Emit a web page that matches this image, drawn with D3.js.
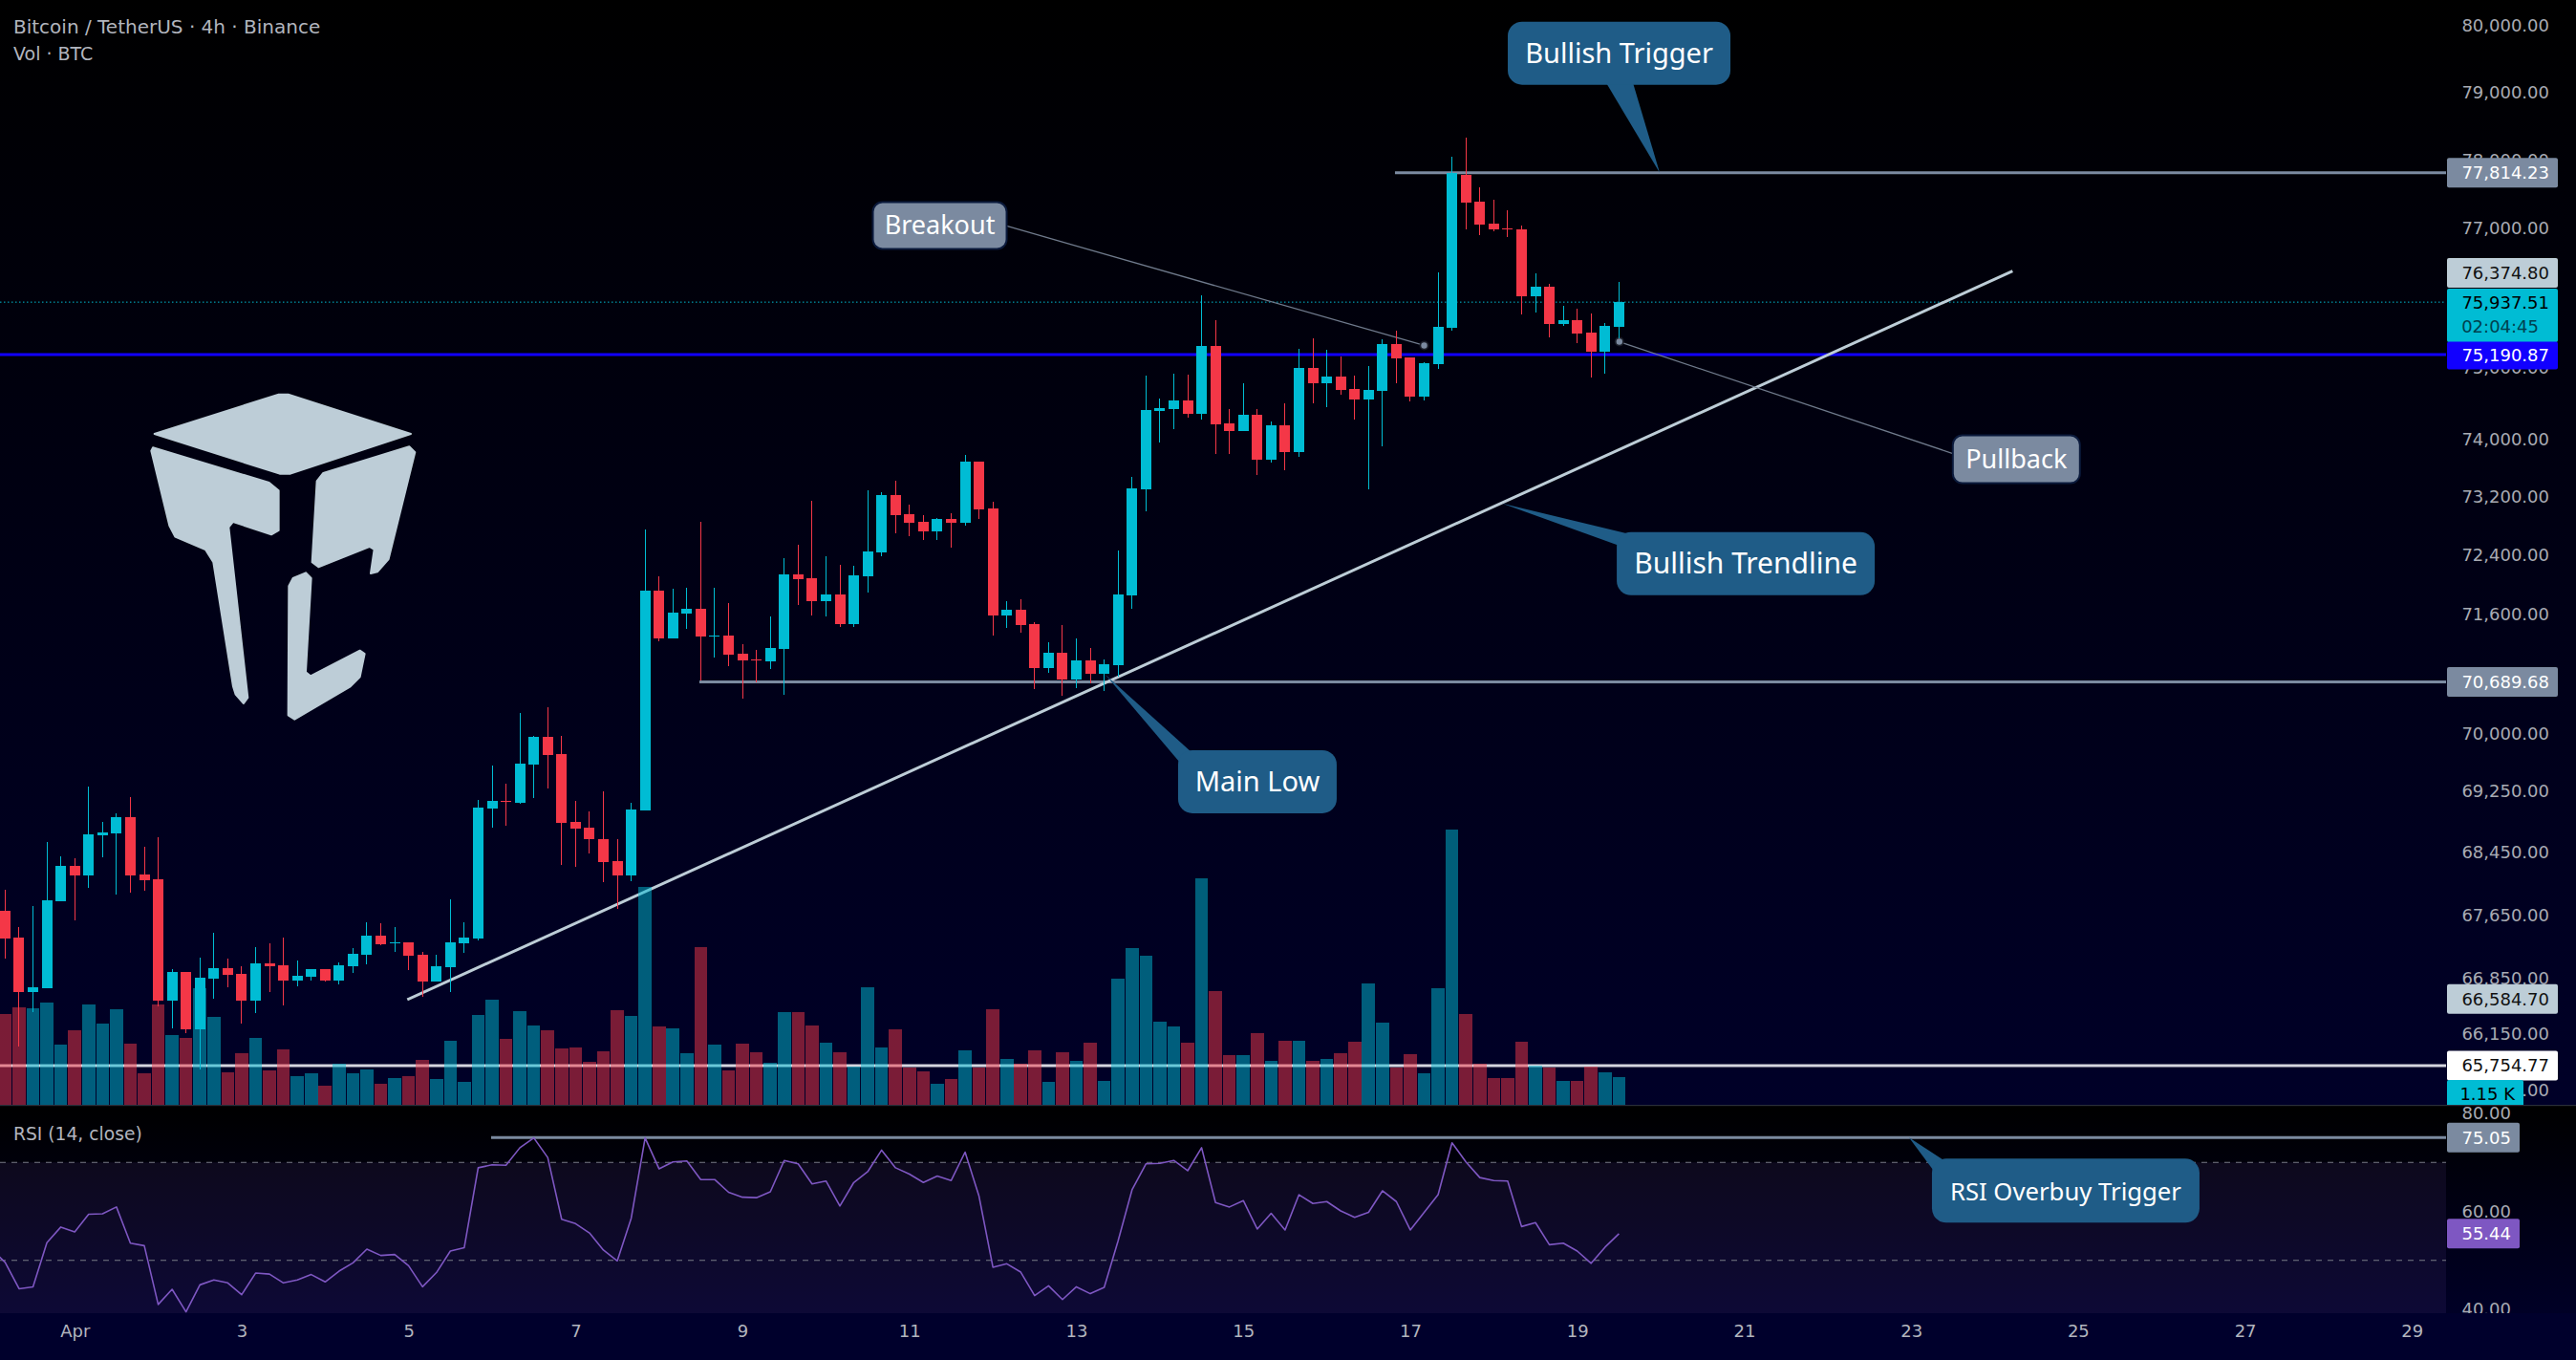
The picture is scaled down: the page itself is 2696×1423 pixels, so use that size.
<!DOCTYPE html>
<html><head><meta charset="utf-8">
<style>html,body{margin:0;padding:0;background:#000;overflow:hidden}svg{display:block}</style>
<script src="https://cdn.jsdelivr.net/npm/d3@7/dist/d3.min.js"></script>
</head><body><svg id="c" width="2696" height="1423"></svg>
<script>
const opens=[67703,67361,66677,66721,67829,68277,68158,68677,68702,68910,
68167,68106,66568,66925,66208,66845,66973,66901,66568,67033,
67009,66821,66869,66961,66821,67001,67145,67385,67283,67297,
67141,66809,66989,67291,67353,69025,69121,69096,69594,69961,
69733,68848,68773,68624,68338,68158,68997,71917,71272,71608,
71672,71298,71311,71066,70989,70963,71131,72136,72085,71775,
71865,71466,72110,72438,73225,72962,72857,72726,72897,72844,
73688,73041,71582,71659,71466,70873,71079,70721,70976,70797,
70912,71852,73304,74397,74424,74544,74357,75315,74223,74116,
74343,73715,74196,73822,75001,74785,74880,74704,74557,74678,
75342,75152,74597,75056,75573,77784,77392,77073,77003,76990,
76022,76158,75628,75682,75505,75233,75587];
const closes=[67353,66677,66733,67838,68277,68158,68686,68711,68910,68158,
68097,66568,66925,66208,66853,66973,66893,66568,67033,67001,
66821,66877,66961,66821,67009,67153,67385,67279,67297,67133,
66809,66997,67297,67361,69034,69121,69109,69607,69961,69721,
68835,68760,68624,68329,68158,69009,71917,71272,71620,71672,
71298,71311,71053,70976,70976,71144,72136,72072,71775,71865,
71466,72123,72451,73225,72949,72844,72726,72897,72844,73688,
73028,71582,71659,71453,70873,71079,70721,70976,70797,70925,
71865,73317,74410,74437,74544,74357,75315,74210,74116,74343,
73715,74196,73822,75001,74785,74880,74691,74557,74691,75342,
75138,74597,75070,75587,77814,77378,77059,76990,76990,76022,
76158,75628,75682,75492,75233,75600,75937.51];
const highs=[67972,67496,67764,68582,68400,68375,69308,68848,68960,69171,
68524,68648,66961,66925,67105,67421,67093,66997,67239,67287,
67361,67069,66961,66961,67045,67227,67557,67545,67496,67297,
67177,67141,67850,67557,69134,69582,69345,70278,69974,70354,
69974,69121,68984,69246,68624,69097,72753,72110,71943,71956,
72857,71956,71749,71195,71118,71569,72357,72543,73146,72385,
72265,72252,73290,73264,73422,73094,72949,72910,72976,73782,
73688,73133,71775,71801,71492,71221,71453,71272,71144,70989,
72464,73474,74893,74571,74920,74907,76036,75682,74424,74785,
74424,74250,74504,75274,75424,75260,75165,74893,75029,75410,
75532,75152,75084,76366,78052,78334,77600,77419,77267,77045,
76350,76200,75886,75845,75777,75641,76227];
const lows=[67097,65995,66425,66721,67829,67585,68000,68391,67915,67939,
67963,66498,66220,66160,65710,66593,66737,66280,66413,66677,
66510,66749,66821,66809,66773,66917,67025,67267,67181,66953,
66617,66809,66677,67169,67329,68777,68802,69088,69162,69287,
68293,68268,68441,68073,67731,68085,68997,71234,71272,71401,
70708,71015,70899,70468,70683,70860,70518,71724,71582,71569,
71427,71427,71891,72385,72700,72661,72608,72608,72503,72805,
72897,71311,71414,71350,70594,70809,70505,70607,70670,70569,
70759,71672,73002,73956,74143,74303,74277,73795,73795,74116,
73501,73675,73568,73755,74504,74450,74624,74277,73304,73902,
74785,74530,74544,74988,75532,76990,76906,76962,76879,75764,
75791,75437,75600,75356,74866,74920,75424];
const volumes=[3.76,4.03,3.99,4.23,2.49,3.08,4.15,3.36,3.96,2.53,
1.30,4.15,2.88,2.76,4.83,3.64,1.34,2.13,2.76,1.42,
2.29,1.18,1.30,0.78,1.69,1.30,1.46,0.86,1.10,1.18,
1.85,1.06,2.65,0.94,3.72,4.35,2.72,3.88,3.28,3.08,
2.33,2.37,1.77,2.21,3.92,3.68,9.03,3.26,3.19,2.13,
6.55,2.52,1.43,2.55,2.20,1.75,3.86,3.86,3.31,2.59,
2.20,1.59,4.89,2.39,3.12,1.56,1.40,0.89,1.08,2.27,
1.56,3.95,1.91,1.72,2.27,0.97,2.20,1.84,2.59,1.01,
5.24,6.52,6.20,3.47,3.26,2.59,9.42,4.73,2.07,2.07,
2.96,1.84,2.64,2.66,1.83,1.90,2.14,2.62,5.04,3.41,
1.56,2.10,1.31,4.84,11.43,3.77,1.71,1.11,1.11,2.62,
1.63,1.56,0.99,0.99,1.59,1.35,1.15];
const rsiBefore=[52.3];
const rsiValues=[49.6,44.2,44.6,53.6,56.8,55.8,59.4,59.5,60.9,53.5,
53.0,41.0,44.1,39.5,45.0,46.0,45.4,43.0,47.4,47.2,
45.4,46.0,47.1,45.6,47.8,49.5,52.3,51.0,51.2,48.9,
44.6,47.5,51.9,52.6,68.9,69.5,69.4,73.0,75.0,71.0,
58.4,57.5,55.6,52.1,49.9,58.6,75.0,68.7,70.1,70.3,
66.5,66.5,63.9,62.9,62.8,64.0,70.4,69.7,65.6,66.2,
61.1,65.9,68.1,72.5,68.9,67.6,65.9,67.2,66.3,72.1,
63.1,48.6,49.3,47.6,42.8,44.8,42.0,44.6,43.2,44.5,
54.0,64.4,69.7,69.8,70.4,68.3,73.0,61.8,60.9,62.2,
56.4,59.6,56.2,63.4,61.6,62.0,60.1,58.8,59.8,64.2,
62.0,56.2,59.8,63.4,74.0,70.1,66.9,66.3,66.2,56.9,
57.7,53.2,53.5,51.9,49.4,52.7,55.44];
const priceTicks=[80000,79000,78000,77000,75000,74000,73200,72400,71600,70800,70000,69250,68450,67650,66850,66150,65450];
const rsiTicks=[80,60,40];
const dateLabels=["Apr","3","5","7","9","11","13","15","17","19","21","23","25","27","29"];
const dateIndex=[5,17,29,41,53,65,77,89,101,113,125,137,149,161,173];
const trigger=77814.23, mainLow=70689.68, support=65754.77, pivot=75190.87, trendLow=66584.70, trendHigh=76374.80, lastClose=75937.51, lastVolume=1.15, rsiTrigger=75.05, rsiLast=55.44;
const calloutTexts=["Bullish Trigger","Bullish Trendline","Main Low"];
const calloutIdx=[118.93,107.6,79.09];
const calloutPrice=[trigger,73107,70785];
const noteTexts=["Breakout","Pullback"];
const noteIdx=[102,116.03];
const notePrice=[75319,75373];

const W=2696,H=1423,PX=2560,MB=1156,RT=1157,RB=1374;
const FONT='"DejaVu Sans",sans-serif', LFONT='"Noto Sans",sans-serif';
const UP='#00bcd4',DN='#f43747',SLATE='#7b8aa0',LIGHT='#bdcdd7',BLUE='#1100ff',PURPLE='#7e57c2',CALL='#1f5c87',TXT='#a8abb3';

const x=d3.scaleLinear().domain([0,173]).range([5.4,2524.3]);
const y=d3.scaleLog().domain([80000,60000]).range([27,1623]);
const yVol=d3.scaleLinear().domain([0,11.43]).range([MB,868]);
const yRsi=d3.scaleLinear().domain([80,40]).range([1165,1370]);

const svg=d3.select('#c');
const defs=svg.append('defs');
function grad(id,a,b){const g=defs.append('linearGradient').attr('id',id).attr('x1',0).attr('y1',0).attr('x2',0).attr('y2',1);
 g.append('stop').attr('offset',0).attr('stop-color',a);g.append('stop').attr('offset',1).attr('stop-color',b);}
grad('gMain','#000000','#000028');grad('gRsi','#000000','#000026');
defs.append('clipPath').attr('id','clipMain').append('rect').attr('width',PX).attr('height',MB);
defs.append('clipPath').attr('id','clipRsi').append('rect').attr('y',RT).attr('width',PX).attr('height',RB-RT);
defs.append('clipPath').attr('id','clipRsiAxis').append('rect').attr('y',RT).attr('width',W).attr('height',RB-RT);
defs.append('clipPath').attr('id','clipVolTag').append('rect').attr('y',0).attr('width',W).attr('height',MB);

svg.append('rect').attr('width',W).attr('height',RT).attr('fill','url(#gMain)');
svg.append('rect').attr('y',RT).attr('width',W).attr('height',RB-RT).attr('fill','url(#gRsi)');
svg.append('rect').attr('y',RB).attr('width',W).attr('height',H-RB).attr('fill','#00002c');
svg.append('rect').attr('y',MB).attr('width',W).attr('height',1.2).attr('fill','#2a2e39');

// logo
const logoShapes=[
 [[185,222],[575,98],[605,98],[990,222],[612,347],[578,347]],
 [[180,265],[545,375],[575,400],[575,525],[552,538],[432,498],[418,515],[478,1050],[465,1068],[440,1040],[432,1015],[370,625],[345,585],[250,545],[232,510],[175,275]],
 [[695,370],[715,345],[985,262],[1003,280],[920,615],[885,655],[864,660],[875,585],[860,576],[700,640],[680,625]],
 [[607,700],[620,675],[660,658],[677,675],[660,970],[675,982],[830,902],[845,912],[830,985],[800,1015],[625,1118],[605,1105]]];
const logo=svg.append('g').attr('transform','translate(100,380) scale(0.3333)');
logo.selectAll('path').data(logoShapes).join('path').attr('d',d=>'M'+d.join('L')+'Z')
 .attr('fill',LIGHT).attr('stroke',LIGHT).attr('stroke-width',6).attr('stroke-linejoin','round');

// price axis
const axR=d3.axisRight(y).tickValues(priceTicks).tickSize(0).tickPadding(0).tickFormat(d3.format(',.2f'));
const ga=svg.append('g').attr('transform','translate(2668,0)').call(axR);
ga.select('.domain').remove();
ga.selectAll('text').attr('text-anchor','end').attr('x',0).attr('font-family',FONT).attr('font-size',18).attr('fill',TXT);

// rsi axis
const axRs=d3.axisRight(yRsi).tickValues(rsiTicks).tickSize(0).tickPadding(0).tickFormat(d3.format('.2f'));
const gar=svg.append('g').attr('clip-path','url(#clipRsiAxis)').append('g').attr('transform','translate(2628,0)').call(axRs);
gar.select('.domain').remove();
gar.selectAll('text').attr('text-anchor','end').attr('x',0).attr('font-family',FONT).attr('font-size',18).attr('fill',TXT);

// time axis
const axB=d3.axisBottom(x).tickValues(dateIndex).tickSize(0).tickPadding(0).tickFormat((d,i)=>dateLabels[i]);
const gb=svg.append('g').attr('transform','translate(0,1386)').call(axB);
gb.select('.domain').remove();
gb.selectAll('text').attr('font-family',FONT).attr('font-size',18).attr('fill','#b2b5be');

// main pane
const main=svg.append('g').attr('clip-path','url(#clipMain)');
const H3=(v,a,b,c,w)=>main.append('line').attr('x1',x(a)).attr('x2',b).attr('y1',y(v)).attr('y2',y(v)).attr('stroke',c).attr('stroke-width',w);
H3(trigger,99.9,PX,SLATE,3);
H3(mainLow,49.9,PX,SLATE,3);
H3(support,-1,PX,'#d5d6de',3);
H3(pivot,-1,PX,BLUE,3);
main.append('line').attr('x1',0).attr('x2',PX).attr('y1',y(lastClose)).attr('y2',y(lastClose)).attr('stroke',UP).attr('stroke-width',1).attr('stroke-dasharray','1.5 2.5');
main.append('line').attr('x1',x(29)).attr('y1',y(trendLow)).attr('x2',x(144.2)).attr('y2',y(trendHigh)).attr('stroke',LIGHT).attr('stroke-width',3).attr('stroke-linecap','square');

// volume
const idx=d3.range(opens.length);
main.append('g').selectAll('rect').data(idx).join('rect')
 .attr('x',i=>x(i)-6.8).attr('width',13.6).attr('y',i=>yVol(volumes[i])).attr('height',i=>MB-yVol(volumes[i]))
 .attr('fill',i=>closes[i]>=opens[i]?UP:DN).attr('opacity',0.5).attr('shape-rendering','crispEdges');

// callouts
const boxes=[{dx:-159,dy:-158,w:233,h:66,t:[-56,-28],fs:29},{dx:120,dy:30,w:270,h:66,t:[13,14],fs:30},{dx:76,dy:79,w:166,h:66,t:[14,13],fs:29}];
const cg=svg.append('g');
function callout(g,text,px,py,b){
 const bx=px+b.dx,by=py+b.dy;
 const tail=b.dy<0?[[px,py],[px+b.t[0],by+b.h-2],[px+b.t[1],by+b.h-2]]:[[px,py],[bx+b.t[0],by+2],[bx+20,by+20],[bx+2,by+b.t[1]]];
 g.append('path').attr('d','M'+tail.join('L')+'Z').attr('fill',CALL);
 g.append('rect').attr('x',bx).attr('y',by).attr('width',b.w).attr('height',b.h).attr('rx',15).attr('fill',CALL);
 g.append('text').attr('x',bx+b.w/2).attr('y',by+b.h/2+10).attr('text-anchor','middle').attr('font-family',LFONT).attr('font-size',b.fs).attr('fill','#fff').text(text);
}
calloutTexts.forEach((t,i)=>callout(cg,t,x(calloutIdx[i]),y(calloutPrice[i]),boxes[i]));

// notes
const noteBoxes=[{dx:-577,dy:-150,w:140,h:49,ly:25,side:1},{dx:349,dy:98,w:133,h:50,ly:19,side:-1}];
const ng=svg.append('g');
noteTexts.forEach((t,i)=>{
 const px=x(noteIdx[i]),py=y(notePrice[i]),b=noteBoxes[i],bx=px+b.dx,by=py+b.dy;
 ng.append('line').attr('x1',px).attr('y1',py).attr('x2',b.side>0?bx+b.w:bx).attr('y2',by+b.ly).attr('stroke','#6f7a8c').attr('stroke-width',1.3);
 ng.append('circle').attr('cx',px).attr('cy',py).attr('r',5).attr('fill','#1a1d28');
 ng.append('circle').attr('cx',px).attr('cy',py).attr('r',3.2).attr('fill',SLATE);
 ng.append('rect').attr('x',bx).attr('y',by).attr('width',b.w).attr('height',b.h).attr('rx',10).attr('fill',SLATE).attr('stroke','#0b1a3c').attr('stroke-width',2);
 ng.append('text').attr('x',bx+b.w/2).attr('y',by+b.h/2+9).attr('text-anchor','middle').attr('font-family',LFONT).attr('font-size',27).attr('fill','#fff').text(t);
});

// candles
const cd=svg.append('g').attr('clip-path','url(#clipMain)').attr('shape-rendering','crispEdges');
const col=i=>closes[i]>=opens[i]?UP:DN;
cd.selectAll('.w').data(idx).join('rect').attr('class','w').attr('x',i=>Math.round(x(i)-0.5)).attr('width',1)
 .attr('y',i=>y(highs[i])).attr('height',i=>y(lows[i])-y(highs[i])).attr('fill',col);
cd.selectAll('.b').data(idx).join('rect').attr('class','b').attr('x',i=>Math.round(x(i)-0.5)-5).attr('width',11)
 .attr('y',i=>Math.min(y(opens[i]),y(closes[i]))).attr('height',i=>Math.max(1,Math.abs(y(opens[i])-y(closes[i])))).attr('fill',col);

// RSI pane
const rg=svg.append('g').attr('clip-path','url(#clipRsi)');
rg.append('rect').attr('x',0).attr('width',PX).attr('y',yRsi(70)).attr('height',RB-yRsi(70)).attr('fill',PURPLE).attr('opacity',0.1);
[70,50].forEach(v=>rg.append('line').attr('x1',0).attr('x2',PX).attr('y1',yRsi(v)).attr('y2',yRsi(v)).attr('stroke','#787b86').attr('stroke-dasharray','6 6'));
rg.append('line').attr('x1',514).attr('x2',PX).attr('y1',yRsi(rsiTrigger)).attr('y2',yRsi(rsiTrigger)).attr('stroke',SLATE).attr('stroke-width',3);
const rsiAll=rsiBefore.concat(rsiValues);
rg.append('path').datum(rsiAll).attr('fill','none').attr('stroke',PURPLE).attr('stroke-width',1.6).attr('stroke-linejoin','round')
 .attr('d',d3.line().x((d,i)=>x(i-rsiBefore.length)).y(d=>yRsi(d)));
callout(svg.append('g'),'RSI Overbuy Trigger',x(136.85),yRsi(rsiTrigger),{dx:24,dy:22,w:280,h:67,t:[13,13],fs:25.7});

// tags
const fmt=d3.format(',.2f');
function tag(v,yy,h,bg,fg,w,tx){
 const g=svg.append('g');
 g.append('rect').attr('x',2561).attr('y',yy-h/2).attr('width',w).attr('height',h).attr('rx',2).attr('fill',bg);
 g.append('text').attr('x',tx).attr('y',yy+6.5).attr('text-anchor','end').attr('font-family',FONT).attr('font-size',18).attr('fill',fg).text(v);
 return g;
}
tag(fmt(trigger),y(trigger),31,SLATE,'#fff',116,2668);
tag(fmt(trendHigh),285.5,31,LIGHT,'#111',116,2668);
svg.append('rect').attr('x',2561).attr('y',302).attr('width',116).attr('height',56).attr('rx',2).attr('fill',UP);
svg.append('text').attr('x',2668).attr('y',y(lastClose)+6.5).attr('text-anchor','end').attr('font-family',FONT).attr('font-size',18).attr('fill','#000').text(fmt(lastClose));
svg.append('text').attr('x',2657).attr('y',348).attr('text-anchor','end').attr('font-family',FONT).attr('font-size',18).attr('fill','#00424f').text('02:04:45');
tag(fmt(pivot),y(pivot)+1,29,BLUE,'#fff',116,2668);
tag(fmt(mainLow),y(mainLow),31,SLATE,'#fff',116,2668);
tag(fmt(trendLow),y(trendLow),31,LIGHT,'#111',116,2668);
tag(fmt(support),y(support),31,'#ffffff','#111',116,2668);
const vt=svg.append('g').attr('clip-path','url(#clipVolTag)');
vt.append('rect').attr('x',2561).attr('y',yVol(lastVolume)+3).attr('width',80).attr('height',31).attr('rx',2).attr('fill',UP);
vt.append('text').attr('x',2632).attr('y',yVol(lastVolume)+24).attr('text-anchor','end').attr('font-family',FONT).attr('font-size',18).attr('fill','#000').text(d3.format('.2f')(lastVolume)+' K');
tag(d3.format('.2f')(rsiTrigger),yRsi(rsiTrigger),31,SLATE,'#fff',76,2628);
tag(d3.format('.2f')(rsiLast),yRsi(rsiLast),31,PURPLE,'#fff',76,2628);

// titles
const T=(s,px,py,fs)=>svg.append('text').attr('x',px).attr('y',py).attr('font-family',FONT).attr('font-size',fs).attr('fill','#b2b5be').text(s);
T('Bitcoin / TetherUS · 4h · Binance',14,35,20);
T('Vol · BTC',14,63,19);
T('RSI (14, close)',14,1193,18.7);
</script></body></html>
